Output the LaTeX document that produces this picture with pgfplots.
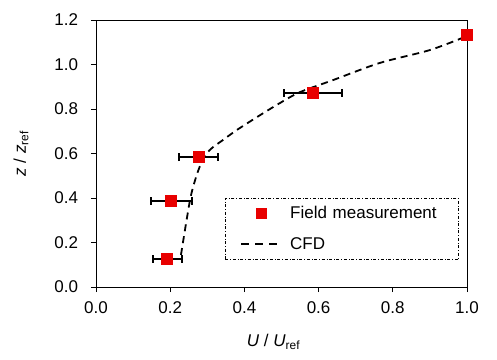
\documentclass[border=0pt]{standalone}
\usepackage{fontspec}
\setmainfont{Liberation Sans}
\usepackage{pgfplots}
\pgfplotsset{compat=1.18}
\definecolor{mred}{RGB}{232,0,0}
\begin{document}
\fontsize{17}{20}\selectfont
\begin{tikzpicture}
\useasboundingbox (-96pt,-72pt) rectangle (401pt,287pt);
\begin{axis}[
  scale only axis, width=371pt, height=267pt,
  at={(0pt,0pt)}, anchor=south west,
  xmin=0, xmax=1.0, ymin=0, ymax=1.2,
  xtick={0,0.2,...,1.0}, ytick={0,0.2,...,1.2},
  xtick pos=bottom, ytick pos=left,
  tick align=outside, major tick length=5pt,
  tick style={black, line width=0.8pt},
  axis line style={black, line width=0.8pt},
  /pgf/number format/.cd, fixed, fixed zerofill, precision=1, assume math mode=true,
  /pgfplots/.cd,
  ticklabel style={font=\fontsize{17}{20}\selectfont},
  xticklabel style={yshift=-4pt},
  yticklabel style={xshift=-7pt},
  xlabel={\itshape U\/\upshape\ / \itshape U\textsubscript{\upshape ref}},
  ylabel={\itshape z\/\upshape\ / \itshape z\textsubscript{\upshape ref}},
  label style={font=\fontsize{17}{20}\selectfont},
  every axis x label/.style={at={(rel axis cs:0.5,0)}, yshift=-55pt, xshift=-8pt, anchor=center},
  every axis y label/.style={at={(rel axis cs:0,0.5)}, xshift=-75pt, rotate=90, anchor=center},
  legend style={at={(axis cs:0.348,0.4)}, anchor=north west, draw=black, dash dot, line width=0.6pt,
    font=\fontsize{17}{20}\selectfont, inner xsep=15pt, inner ysep=6pt, row sep=12pt,
    nodes={solid, text width=151pt}},
  legend cell align=left,
]
\addplot[only marks, mark=square*, mark size=5.5pt, color=mred,
  legend image code/.code={\fill[mred] (15pt,-5pt) rectangle (25pt,5pt); \path (0pt,0pt) (46pt,0pt);},
  error bars/.cd, x dir=both, x explicit,
  error bar style={black, line width=1.3pt},
  error mark options={black, line width=1.3pt, rotate=90, mark size=4pt}]
  coordinates {
  (0.191,0.126) -= (0.037,0) += (0.041,0)
  (0.202,0.387) -= (0.054,0) += (0.057,0)
  (0.278,0.584) -= (0.054,0) += (0.051,0)
  (0.585,0.872) -= (0.078,0) += (0.078,0)
  (1.000,1.133)
  };
\addlegendentry{Field measurement}
\addplot[black, line width=1.8pt, dash pattern=on 7pt off 5pt, smooth,
  legend image code/.code={\draw[black, solid, line width=1.8pt, dash pattern=on 8pt off 6pt] (0pt,0pt) -- (40pt,0pt); \path (46pt,0pt);}] coordinates {
  (0.229,0.144) (0.253,0.387) (0.268,0.485) (0.283,0.555) (0.298,0.600) (0.315,0.628) (0.340,0.658)
  (0.380,0.706) (0.440,0.770) (0.496,0.827) (0.550,0.876) (0.639,0.930) (0.765,1.007)
  (0.900,1.065) (1.000,1.128)
};
\addlegendentry{CFD}
\end{axis}
\end{tikzpicture}
\end{document}
